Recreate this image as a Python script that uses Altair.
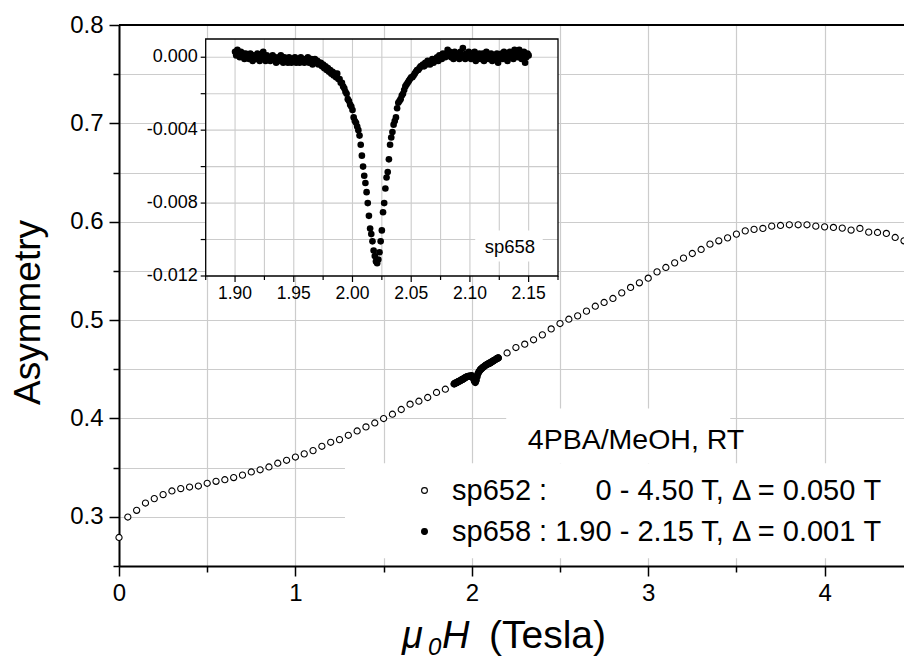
import altair as alt
import pandas as pd

FONT = "Liberation Sans"

# ---------------- data ----------------
# sp652: 0 - 4.50 T, step 0.050 T
sp652_step = 0.05
sp652_asym = [
    0.2790, 0.2998, 0.3066, 0.3140, 0.3185, 0.3226, 0.3263, 0.3287, 0.3303, 0.3313,
    0.3341, 0.3361, 0.3377, 0.3399, 0.3424, 0.3456, 0.3478, 0.3507, 0.3545, 0.3575,
    0.3608, 0.3640, 0.3673, 0.3717, 0.3758, 0.3785, 0.3829, 0.3873, 0.3914, 0.3954,
    0.3999, 0.4043, 0.4091, 0.4145, 0.4175, 0.4213, 0.4264, 0.4297, 0.4350, 0.4400,
    0.4435, 0.4500, 0.4562, 0.4615, 0.4666, 0.4721, 0.4755, 0.4800, 0.4850, 0.4910,
    0.4965, 0.5009, 0.5043, 0.5091, 0.5141, 0.5179, 0.5220, 0.5277, 0.5332, 0.5379,
    0.5426, 0.5490, 0.5535, 0.5582, 0.5630, 0.5677, 0.5718, 0.5772, 0.5806, 0.5836,
    0.5874, 0.5907, 0.5922, 0.5932, 0.5955, 0.5962, 0.5969, 0.5969, 0.5969, 0.5955,
    0.5948, 0.5942, 0.5935, 0.5915, 0.5932, 0.5894, 0.5891, 0.5881, 0.5840, 0.5806,
    0.5770,
]
# sp658 as seen in the main panel (1.90 - 2.15 T), every 0.005 T
sp658_main_start = 1.90
sp658_main_step = 0.005
sp658_main_asym = [
    0.4353, 0.4358, 0.4361, 0.4364, 0.4372, 0.4377, 0.4380, 0.4384, 0.4391, 0.4395,
    0.4401, 0.4405, 0.4413, 0.4418, 0.4422, 0.4426, 0.4427, 0.4431, 0.4431, 0.4431,
    0.4427, 0.4421, 0.4402, 0.4378, 0.4365, 0.4388, 0.4425, 0.4456, 0.4474, 0.4488,
    0.4498, 0.4507, 0.4516, 0.4522, 0.4528, 0.4536, 0.4543, 0.4548, 0.4553, 0.4558,
    0.4563, 0.4565, 0.4573, 0.4578, 0.4583, 0.4590, 0.4594, 0.4599, 0.4607, 0.4611,
    0.4616,
]
# inset: sp658 after background subtraction, 1.900 - 2.150 T, step 0.001 T, in units of 1e-4
inset_start = 1.90
inset_step = 0.001
inset_dA_1e4 = [
    3, 1, 4, 2, 0, 3, 1, 2, -1, 2,
    0, 1, -1, 2, 0, -2, 1, 0, -1, 2,
    1, -2, 0, 2, 3, 0, -2, 1, -1, 0,
    -2, 0, 1, -1, 0, -3, -1, 0, -2, 1,
    -1, -3, 0, -2, -1, -3, 0, -2, -3, -1,
    -2, 0, -3, -1, -2, -3, 0, -1, -2, -3,
    -1, -2, 0, -3, -2, -1, -4, -2, -1, -3,
    -2, -4, -3, -3, -5, -4, -6, -5, -7, -6,
    -8, -7, -9, -8, -10, -9, -11, -9, -12, -12,
    -14, -14, -16, -17, -19, -20, -23, -24, -26, -27,
    -29, -33, -35, -36, -38, -40, -43, -48, -54, -60,
    -65, -69, -74, -80, -87, -94, -97, -101, -106, -109,
    -112, -113, -111, -107, -101, -95, -85, -80, -72, -66,
    -63, -56, -48, -44, -41, -37, -35, -33, -28, -25,
    -24, -23, -21, -20, -18, -16, -15, -14, -13, -12,
    -11, -11, -10, -9, -8, -7, -7, -6, -5, -5,
    -4, -5, -3, -4, -2, -3, -4, -2, -1, -3,
    -2, -1, 0, -2, 1, 0, -1, 2, 1, 0,
    2, 4, 1, 3, 0, 2, -1, 3, 1, 0,
    2, -1, 3, 0, 5, 1, -1, 2, 0, 3,
    1, -1, 2, 0, 3, -2, 1, 0, 2, -1,
    0, 2, -2, 1, 3, 0, -1, 1, 2, -2,
    0, 1, -1, 2, -3, 1, 0, 2, -1, 3,
    0, 2, -2, 1, 3, 0, 2, -1, 4, 1,
    3, 0, 4, 2, -1, 1, 3, -3, 0, 2,
    1,
]

legend_title = "4PBA/MeOH, RT"
legend_labels = [
    "sp652 : \u2007\u2008\u20070 - 4.50 T, \u0394 = 0.050 T",
    "sp658 : 1.90 - 2.15 T, \u0394 = 0.001 T",
]
inset_label = "sp658"

main_x_domain = [0, 4.45]
main_y_domain = [0.25, 0.80]
main_x_ticks = [0, 0.5, 1.0, 1.5, 2.0, 2.5, 3.0, 3.5, 4.0]
main_y_ticks = [0.25, 0.30, 0.35, 0.40, 0.45, 0.50, 0.55, 0.60, 0.65, 0.70, 0.75, 0.80]
inset_x_domain = [1.875, 2.175]
inset_y_domain = [-0.012, 0.001]
inset_x_major = [1.90, 1.95, 2.00, 2.05, 2.10, 2.15]
inset_x_labels = ["1.90", "1.95", "2.00", "2.05", "2.10", "2.15"]
inset_x_minor = [1.875, 1.925, 1.975, 2.025, 2.075, 2.125, 2.175]
inset_y_major = [-0.012, -0.008, -0.004, 0.000]
inset_y_labels = ["-0.012", "-0.008", "-0.004", "0.000"]
inset_y_minor = [-0.010, -0.006, -0.002]
inset_grid_x = [1.9, 1.925, 1.95, 1.975, 2.0, 2.025, 2.05, 2.075, 2.1, 2.125, 2.15]
inset_grid_y = [-0.010, -0.008, -0.006, -0.004, -0.002, 0.0]

# white boxes behind the legend (main-panel data units)
legend_title_box = {"x1": 2.195, "x2": 3.465, "y1": 0.3544, "y2": 0.4100}
legend_entry_box = {"x1": 1.281, "x2": 4.45, "y1": 0.2578, "y2": 0.3544}

# ---------------- tables ----------------
main_df = pd.DataFrame({
    "field": [round(i * sp652_step, 4) for i in range(len(sp652_asym))]
    + [round(sp658_main_start + i * sp658_main_step, 4) for i in range(len(sp658_main_asym))],
    "asym": sp652_asym + sp658_main_asym,
    "series": [legend_labels[0]] * len(sp652_asym) + [legend_labels[1]] * len(sp658_main_asym),
})
inset_df = pd.DataFrame({
    "field": [round(inset_start + i * inset_step, 4) for i in range(len(inset_dA_1e4))],
    "dA": [v / 1e4 for v in inset_dA_1e4],
})

W, H = 785, 541
GRID = "#cccccc"

# ---------------- main panel ----------------
main_xscale = alt.Scale(domain=main_x_domain, nice=False, zero=False)
main_yscale = alt.Scale(domain=main_y_domain, nice=False, zero=False)

main_xaxis = alt.Axis(
    values=main_x_ticks, title=None,
    labelExpr="datum.value % 1 === 0 ? format(datum.value, 'd') : ''",
    tickSize={"condition": {"test": "datum.value % 1 === 0", "value": 10}, "value": 6},
    tickColor="black", tickWidth=1.5, domainColor="black", domainWidth=2,
    grid=True, gridColor=GRID, gridWidth=1.2,
    labelFont=FONT, labelFontSize=24, labelColor="black", labelPadding=5,
    labelFlush=False, labelOverlap=False, labelBound=False,
)
main_yaxis = alt.Axis(
    values=main_y_ticks, title="Asymmetry",
    labelExpr="abs(datum.value*10 - round(datum.value*10)) < 1e-6 ? format(datum.value, '.1f') : ''",
    tickSize={"condition": {"test": "abs(datum.value*10 - round(datum.value*10)) < 1e-6", "value": 10}, "value": 6},
    tickColor="black", tickWidth=1.5, domainColor="black", domainWidth=2,
    grid=True, gridColor=GRID, gridWidth=1.2,
    labelFont=FONT, labelFontSize=24, labelColor="black", labelPadding=6,
    labelFlush=False, labelOverlap=False, labelBound=False,
    titleFont=FONT, titleFontSize=37, titleFontWeight="normal", titleColor="black",
    titleX=-72, titleY=287,
)

box_df = pd.DataFrame([legend_title_box, legend_entry_box])
legend_boxes = alt.Chart(box_df).mark_rect(fill="white", stroke=None).encode(
    x=alt.X("x1:Q", scale=main_xscale, axis=main_xaxis), x2="x2:Q",
    y=alt.Y("y1:Q", scale=main_yscale, axis=main_yaxis), y2="y2:Q",
)

main_points = alt.Chart(main_df).mark_point(
    filled=True, shape="circle", size=38, stroke="black", strokeWidth=1.1, opacity=1
).encode(
    x=alt.X("field:Q", scale=main_xscale, axis=main_xaxis),
    y=alt.Y("asym:Q", scale=main_yscale, axis=main_yaxis),
    fill=alt.Fill(
        "series:N",
        scale=alt.Scale(domain=legend_labels, range=["white", "black"]),
        legend=alt.Legend(
            title=None, orient="none", legendX=291, legendY=451, padding=0,
            labelFont=FONT, labelFontSize=29, labelColor="black", labelLimit=900,
            labelOffset=13, symbolOffset=0, symbolType="circle", symbolSize=34,
            symbolStrokeColor="black", symbolStrokeWidth=1.1, symbolOpacity=1,
            rowPadding=11,
        ),
    ),
)

one = pd.DataFrame({"k": [0]})
top_frame = alt.Chart(one).mark_rule(color="black", strokeWidth=2).encode(
    x=alt.value(0), x2=alt.value(W), y=alt.value(0)
)

def text_piece(txt, x, y, size, italic=False, align="left", baseline="alphabetic"):
    return alt.Chart(pd.DataFrame({"t": [txt]})).mark_text(
        font=FONT, fontSize=size, fontStyle="italic" if italic else "normal",
        align=align, baseline=baseline, color="black",
    ).encode(text="t:N", x=alt.value(x), y=alt.value(y))

xtitle = alt.layer(
    text_piece("\u03bc", 283, 623, 38, True),
    text_piece("0", 309, 630, 24, True),
    text_piece("H", 323, 623, 38, True),
    text_piece("(Tesla)", 370, 623, 39),
)
legend_head = text_piece(legend_title, 517, 415, 28.5, align="center", baseline="middle")

main = alt.layer(legend_boxes, main_points, top_frame, xtitle, legend_head)

# ---------------- inset ----------------
ix = alt.Scale(domain=inset_x_domain, range=[86.7, 439], nice=False, zero=False)
iy = alt.Scale(domain=inset_y_domain, range=[251, 14], nice=False, zero=False)

frame_df = pd.DataFrame({"x1": [inset_x_domain[0]], "x2": [inset_x_domain[1]],
                         "y1": [inset_y_domain[0]], "y2": [inset_y_domain[1]]})
inset_bg = alt.Chart(frame_df).mark_rect(fill="white", stroke=None).encode(
    x=alt.X("x1:Q", scale=ix, axis=None), x2="x2:Q",
    y=alt.Y("y1:Q", scale=iy, axis=None), y2="y2:Q",
)
inset_frame = alt.Chart(frame_df).mark_rect(fill=None, stroke="black", strokeWidth=1.3).encode(
    x=alt.X("x1:Q", scale=ix, axis=None), x2="x2:Q",
    y=alt.Y("y1:Q", scale=iy, axis=None), y2="y2:Q",
)
gx_df = pd.DataFrame({"gx": inset_grid_x, "lo": inset_y_domain[0], "hi": inset_y_domain[1]})
gy_df = pd.DataFrame({"gy": inset_grid_y, "lo": inset_x_domain[0], "hi": inset_x_domain[1]})
inset_vgrid = alt.Chart(gx_df).mark_rule(color=GRID, strokeWidth=1.1).encode(
    x=alt.X("gx:Q", scale=ix, axis=None),
    y=alt.Y("lo:Q", scale=iy, axis=None), y2="hi:Q",
)
inset_hgrid = alt.Chart(gy_df).mark_rule(color=GRID, strokeWidth=1.1).encode(
    y=alt.Y("gy:Q", scale=iy, axis=None),
    x=alt.X("lo:Q", scale=ix, axis=None), x2="hi:Q",
)

# inset axis ticks and labels
xmaj_df = pd.DataFrame({"t": inset_x_major, "lab": inset_x_labels, "base": inset_y_domain[0]})
xmin_df = pd.DataFrame({"t": inset_x_minor, "base": inset_y_domain[0]})
ymaj_df = pd.DataFrame({"t": inset_y_major, "lab": inset_y_labels, "base": inset_x_domain[0]})
ymin_df = pd.DataFrame({"t": inset_y_minor, "base": inset_x_domain[0]})

xmaj_ticks = alt.Chart(xmaj_df).mark_rule(color="black", strokeWidth=1.2, y2Offset=6).encode(
    x=alt.X("t:Q", scale=ix, axis=None), y=alt.Y("base:Q", scale=iy, axis=None), y2="base:Q")
xmin_ticks = alt.Chart(xmin_df).mark_rule(color="black", strokeWidth=1.2, y2Offset=4).encode(
    x=alt.X("t:Q", scale=ix, axis=None), y=alt.Y("base:Q", scale=iy, axis=None), y2="base:Q")
ymaj_ticks = alt.Chart(ymaj_df).mark_rule(color="black", strokeWidth=1.2, x2Offset=-5).encode(
    y=alt.Y("t:Q", scale=iy, axis=None), x=alt.X("base:Q", scale=ix, axis=None), x2="base:Q")
ymin_ticks = alt.Chart(ymin_df).mark_rule(color="black", strokeWidth=1.2, x2Offset=-5).encode(
    y=alt.Y("t:Q", scale=iy, axis=None), x=alt.X("base:Q", scale=ix, axis=None), x2="base:Q")
xlabels = alt.Chart(xmaj_df).mark_text(
    font=FONT, fontSize=17.5, color="black", align="center", baseline="top", dy=9
).encode(x=alt.X("t:Q", scale=ix, axis=None), y=alt.Y("base:Q", scale=iy, axis=None), text="lab:N")
ylabels = alt.Chart(ymaj_df).mark_text(
    font=FONT, fontSize=18, color="black", align="right", baseline="middle", dx=-8
).encode(y=alt.Y("t:Q", scale=iy, axis=None), x=alt.X("base:Q", scale=ix, axis=None), text="lab:N")

lab_df = pd.DataFrame({"x1": [2.1045], "x2": [2.162], "y1": [-0.0112], "y2": [-0.0095],
                       "tx": [2.134], "ty": [-0.01039], "t": [inset_label]})
inset_labbox = alt.Chart(lab_df).mark_rect(fill="white").encode(
    x=alt.X("x1:Q", scale=ix, axis=None), x2="x2:Q",
    y=alt.Y("y1:Q", scale=iy, axis=None), y2="y2:Q",
)
inset_text = alt.Chart(lab_df).mark_text(
    font=FONT, fontSize=18.5, color="black", align="center", baseline="middle"
).encode(
    x=alt.X("tx:Q", scale=ix, axis=None), y=alt.Y("ty:Q", scale=iy, axis=None), text="t:N"
)
inset_pts = alt.Chart(inset_df).mark_circle(size=44, color="black", opacity=1).encode(
    x=alt.X("field:Q", scale=ix, axis=None),
    y=alt.Y("dA:Q", scale=iy, axis=None),
)

inset = alt.layer(
    inset_bg, inset_vgrid, inset_hgrid, inset_labbox, inset_text, inset_pts, inset_frame,
    xmaj_ticks, xmin_ticks, ymaj_ticks, ymin_ticks, xlabels, ylabels,
)

chart = alt.layer(main, inset).resolve_scale(x="independent", y="independent").properties(
    width=W, height=H,
    autosize=alt.AutoSizeParams(type="none"),
    padding={"left": 119, "top": 25, "right": 0, "bottom": 96},
    background="white",
).configure_view(stroke=None)

chart.save("out.html", embed_options={"renderer": "svg", "actions": False})
